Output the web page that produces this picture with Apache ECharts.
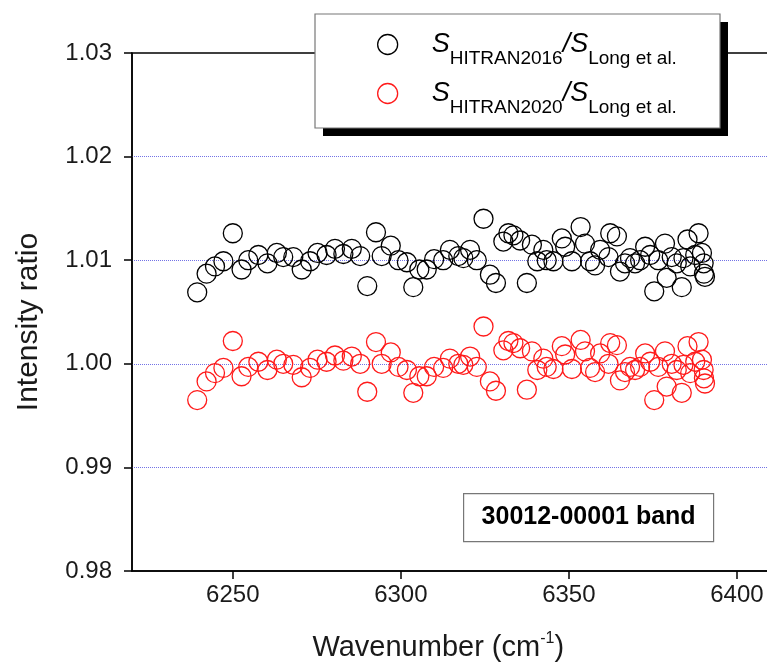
<!DOCTYPE html>
<html><head><meta charset="utf-8">
<script src="https://cdn.jsdelivr.net/npm/echarts@6/dist/echarts.min.js"></script>
<style>html,body{margin:0;padding:0;background:#fff}#c{width:767px;height:662px}</style>
</head><body><div id="c"></div>
<script>
const wavenumber = [6239.4, 6242.2, 6244.7, 6247.2, 6250.0, 6252.6, 6254.6, 6257.6, 6260.3, 6263.1, 6265.0, 6268.0, 6270.5, 6273.0, 6275.2, 6277.9, 6280.4, 6282.9, 6285.4, 6287.9, 6290.0, 6292.6, 6294.3, 6297.0, 6299.3, 6301.8, 6303.7, 6305.5, 6307.7, 6309.9, 6312.6, 6314.6, 6317.1, 6318.6, 6320.6, 6322.6, 6324.6, 6326.5, 6328.3, 6330.5, 6332.0, 6333.5, 6335.5, 6337.5, 6339.0, 6340.6, 6342.4, 6343.4, 6345.4, 6347.9, 6348.9, 6350.9, 6353.5, 6354.8, 6356.3, 6357.8, 6359.3, 6361.8, 6362.3, 6364.3, 6365.2, 6366.7, 6368.2, 6369.7, 6371.2, 6372.7, 6374.2, 6375.4, 6376.6, 6378.6, 6379.1, 6380.6, 6382.1, 6383.6, 6384.1, 6385.3, 6386.1, 6387.6, 6388.6, 6389.6, 6390.1, 6390.2, 6390.5];
const ratio2016 = [1.0069, 1.0087, 1.0094, 1.0099, 1.0126, 1.0091, 1.0100, 1.0105, 1.0097, 1.0107, 1.0103, 1.0103, 1.0091, 1.0099, 1.0107, 1.0105, 1.0111, 1.0106, 1.0111, 1.0104, 1.0075, 1.0127, 1.0104, 1.0114, 1.0100, 1.0098, 1.0074, 1.0091, 1.0091, 1.0101, 1.0100, 1.0110, 1.0104, 1.0102, 1.0110, 1.0100, 1.0140, 1.0086, 1.0078, 1.0118, 1.0126, 1.0124, 1.0119, 1.0078, 1.0115, 1.0099, 1.0110, 1.0100, 1.0099, 1.0121, 1.0113, 1.0099, 1.0132, 1.0116, 1.0099, 1.0095, 1.0110, 1.0103, 1.0126, 1.0123, 1.0089, 1.0097, 1.0102, 1.0097, 1.0100, 1.0113, 1.0105, 1.0070, 1.0100, 1.0116, 1.0083, 1.0103, 1.0097, 1.0074, 1.0102, 1.0120, 1.0094, 1.0105, 1.0126, 1.0107, 1.0097, 1.0087, 1.0084];
const ratio2020 = [0.9965, 0.9983, 0.9991, 0.9996, 1.0022, 0.9988, 0.9997, 1.0002, 0.9994, 1.0004, 1.0000, 0.9999, 0.9987, 0.9996, 1.0004, 1.0002, 1.0008, 1.0003, 1.0007, 1.0000, 0.9973, 1.0021, 1.0000, 1.0011, 0.9997, 0.9994, 0.9972, 0.9988, 0.9988, 0.9997, 0.9996, 1.0005, 1.0000, 0.9999, 1.0007, 0.9997, 1.0036, 0.9983, 0.9974, 1.0013, 1.0022, 1.0020, 1.0015, 0.9975, 1.0012, 0.9994, 1.0005, 0.9997, 0.9995, 1.0017, 1.0009, 0.9995, 1.0023, 1.0012, 0.9996, 0.9992, 1.0010, 1.0000, 1.0020, 1.0018, 0.9984, 0.9992, 0.9997, 0.9994, 0.9997, 1.0010, 1.0002, 0.9965, 0.9997, 1.0012, 0.9978, 1.0000, 0.9994, 0.9972, 0.9999, 1.0017, 0.9991, 1.0002, 1.0021, 1.0004, 0.9994, 0.9986, 0.9981];
const xTickValues = [6250, 6300, 6350, 6400];
const seriesNames = ['HITRAN2016', 'HITRAN2020'];
const seriesColors = ['#000000', '#ff1a1a'];
const refName = 'Long et al.';
const bandLabel = '30012-00001 band';
const xAxisTitle = 'Wavenumber (cm';
const yAxisTitle = 'Intensity ratio';

const FONT = '"Liberation Sans", Arial, sans-serif';
const chart = echarts.init(document.getElementById('c'), null, {renderer: 'canvas'});
const ratios = [ratio2016, ratio2020];

const option = {
  animation: false,
  backgroundColor: '#fff',
  grid: {left: 132, top: 53, width: 638.5, height: 518, outerBoundsMode: 'none', containLabel: false,
    show: true, borderColor: '#000', borderWidth: 1.5, backgroundColor: 'transparent'},
  xAxis: {
    type: 'value', min: 6220, max: 6410,
    axisLine: {show: true, onZero: false, lineStyle: {color: '#000', width: 1.5}},
    axisTick: {show: true, customValues: xTickValues, length: 8, lineStyle: {color: '#000', width: 1.5}},
    axisLabel: {customValues: xTickValues, color: '#1a1a1a', fontSize: 24, fontFamily: FONT, margin: 12, formatter: v => String(v)},
    splitLine: {show: false},
    name: '{t|' + xAxisTitle + '}{sup|-1}{t|)}',
    nameLocation: 'middle', nameGap: 60,
    nameTextStyle: {
      padding: [0, 26, 0, 0],
      rich: {
        t: {fontSize: 29, fontFamily: FONT, color: '#1a1a1a', lineHeight: 33},
        sup: {fontSize: 16, fontFamily: FONT, color: '#1a1a1a', lineHeight: 16, verticalAlign: 'top'}
      }
    }
  },
  yAxis: {
    type: 'value', min: 0.98, max: 1.03, interval: 0.01,
    axisLine: {show: true, onZero: false, lineStyle: {color: '#000', width: 1.5}},
    axisTick: {show: true, length: 8, lineStyle: {color: '#000', width: 1.5}},
    axisLabel: {color: '#1a1a1a', fontSize: 24, fontFamily: FONT, margin: 20, formatter: v => v.toFixed(2)},
    splitLine: {show: true, showMinLine: false, showMaxLine: false, lineStyle: {color: '#7373e6', type: 'dotted', width: 1}},
    name: yAxisTitle, nameLocation: 'middle', nameGap: 88,
    nameTextStyle: {fontSize: 30, fontFamily: FONT, color: '#1a1a1a', padding: [0, 20, 0, 0]}
  },
  legend: {
    left: 377, top: 31, orient: 'vertical',
    selectedMode: false,
    padding: 0,
    itemGap: 11.5, itemWidth: 20, itemHeight: 20,
    data: seriesNames.map((n, i) => ({name: n, icon: 'circle', itemStyle: {color: 'transparent', borderColor: seriesColors[i], borderWidth: 1.3}})),
    formatter: n => '{s0|S}{sub|' + n + '}{s|/S}{sub|' + refName + '}',
    textStyle: {
      rich: {
        s0: {fontSize: 27, fontStyle: 'italic', fontFamily: FONT, color: '#000', lineHeight: 48, padding: [0, 0, 0, 29]},
        s: {fontSize: 27, fontStyle: 'italic', fontFamily: FONT, color: '#000', lineHeight: 48},
        sub: {fontSize: 19, fontFamily: FONT, color: '#000', lineHeight: 18, verticalAlign: 'bottom'}
      }
    }
  },
  graphic: [
    {type: 'rect', z: 3, shape: {x: 323, y: 22, width: 405, height: 114}, style: {fill: '#000'}},
    {type: 'rect', z: 3, shape: {x: 315, y: 14, width: 405, height: 114}, style: {fill: '#fff', stroke: '#777', lineWidth: 1.2}},
    {
      type: 'group', left: 463, top: 493, z: 10,
      children: [
        {type: 'rect', shape: {x: 0, y: 0, width: 250, height: 48}, style: {fill: '#fff', stroke: '#777', lineWidth: 1.2}},
        {type: 'text', x: 125, y: 24, style: {text: bandLabel, font: 'bold 25px "Liberation Sans", Arial, sans-serif', fill: '#000', align: 'center', verticalAlign: 'middle'}}
      ]
    }
  ],
  series: seriesNames.map((n, i) => ({
    name: n, type: 'scatter', symbol: 'circle', symbolSize: 19,
    itemStyle: {color: 'transparent', borderColor: seriesColors[i], borderWidth: 1.3, opacity: 1},
    emphasis: {disabled: true},
    data: wavenumber.map((x, k) => [x, ratios[i][k]])
  }))
};
chart.setOption(option);
</script>
</body></html>
